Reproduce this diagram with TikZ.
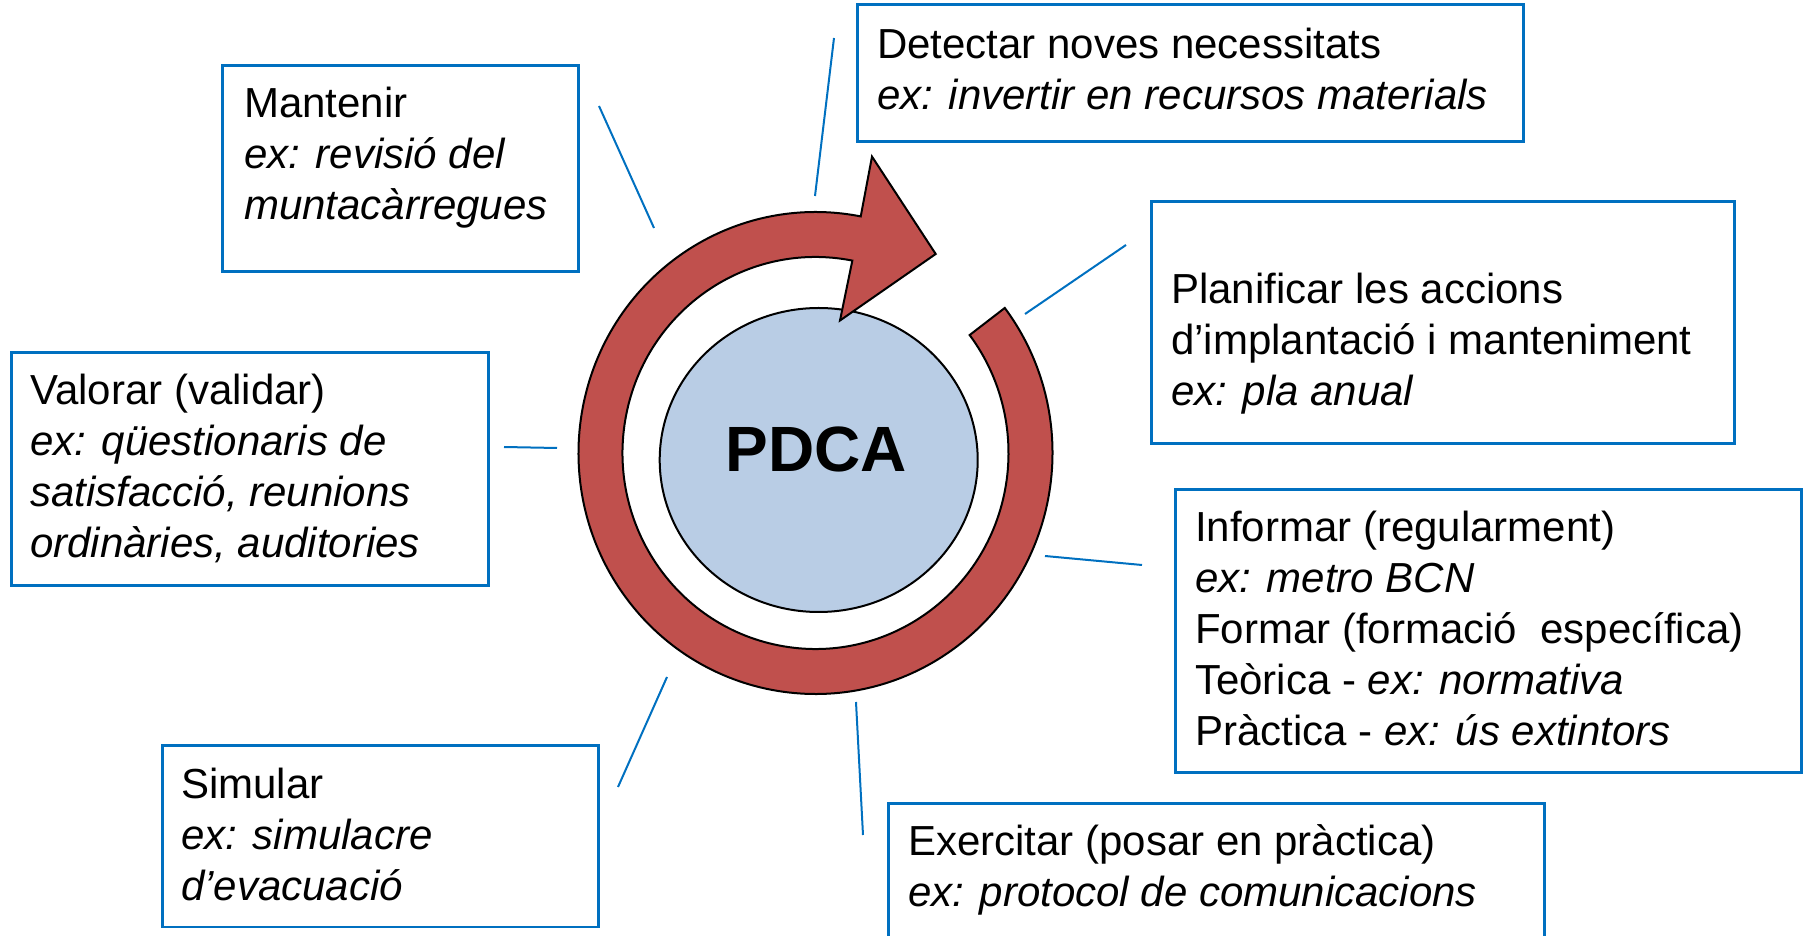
\documentclass[tikz,border=0pt]{standalone}
\usepackage{fontspec}
\setmainfont{Liberation Sans}
\usetikzlibrary{shapes.geometric,calc}
\definecolor{boxblue}{HTML}{0070C0}
\definecolor{ringred}{HTML}{C0504D}
\definecolor{pdcablue}{HTML}{B9CDE5}
\begin{document}
\begin{tikzpicture}[x=1pt,y=1pt,
  box/.style={draw=boxblue, line width=2.5pt, rectangle, inner sep=0pt, anchor=south west},
  conn/.style={draw=boxblue, line width=2pt},
  txt/.style={anchor=base west, inner sep=0pt, font=\fontsize{42}{51}\selectfont},
]
\useasboundingbox (0,0) rectangle (1805,935);
\clip (0,0) rectangle (1805,935);

% centre ellipse
\node[draw=black, line width=2pt, fill=pdcablue, ellipse, minimum width=318pt, minimum height=304pt, inner sep=0pt] (pdca) at (818.7,475) {};
\node[anchor=base, inner sep=0pt, font=\fontsize{64}{70}\selectfont\bfseries] (pdcatext) at (816.4,463) {PDCA};

% circular arrow
\coordinate (rc) at (815.5,482);
\draw[fill=ringred, draw=black, line width=2pt, line join=miter]
  ($(rc)+(37:237 and 241)$) arc[start angle=37, end angle=-281, x radius=237, y radius=241]
  -- (872,778.4) -- (935.7,681) -- (840,614.5)
  -- ($(rc)+(79:193 and 196)$) arc[start angle=-281, end angle=37, x radius=193, y radius=196] -- cycle;

% boxes
\node[box, minimum width=356pt, minimum height=206pt] (bmant) at (221,662) {};
\node[box, minimum width=666pt, minimum height=137pt] (bdet) at (856,792) {};
\node[box, minimum width=583pt, minimum height=242pt] (bplan) at (1150,490) {};
\node[box, minimum width=477pt, minimum height=233pt] (bval) at (10,348) {};
\node[box, minimum width=626pt, minimum height=283pt] (binf) at (1174,161) {};
\node[box, minimum width=436pt, minimum height=181pt] (bsim) at (161,7) {};
\node[box, minimum width=656pt, minimum height=180pt] (bexe) at (887,-50) {};

% texts
\node[txt] (tmant) at (244,817.7) {\begin{tabular}[t]{@{}l@{}}Mantenir\\ \itshape ex: revisió del\\ \itshape muntacàrregues\end{tabular}};
\node[txt] (tdet) at (877,876.7) {\begin{tabular}[t]{@{}l@{}}Detectar noves necessitats\\ \itshape ex: invertir en recursos materials\end{tabular}};
\node[txt] (tplan) at (1171,631) {\begin{tabular}[t]{@{}l@{}}Planificar les accions\\ d’implantació i manteniment\\ \itshape ex: pla anual\end{tabular}};
\node[txt] (tinf) at (1195,393.3) {\begin{tabular}[t]{@{}l@{}}Informar (regularment)\\ \itshape ex: metro BCN\\ Formar (formació\ \ específica)\\ Teòrica - \itshape ex: normativa\\ Pràctica - \itshape ex: ús extintors\end{tabular}};
\node[txt] (texe) at (908,80) {\begin{tabular}[t]{@{}l@{}}Exercitar (posar en pràctica)\\ \itshape ex: protocol de comunicacions\end{tabular}};
\node[txt] (tval) at (30,530) {\begin{tabular}[t]{@{}l@{}}Valorar (validar)\\ \itshape ex: qüestionaris de\\ \itshape satisfacció, reunions\\ \itshape ordinàries, auditories\end{tabular}};
\node[txt] (tsim) at (181,136) {\begin{tabular}[t]{@{}l@{}}Simular\\ \itshape ex: simulacre\\ \itshape d’evacuació\end{tabular}};

% connectors
\coordinate (m1) at (599,829); \coordinate (m2) at (654,707);
\coordinate (d1) at (834,897); \coordinate (d2) at (815,739);
\coordinate (p1) at (1126,690); \coordinate (p2) at (1025,621);
\coordinate (i1) at (1045,379); \coordinate (i2) at (1142,370);
\coordinate (e1) at (856,233); \coordinate (e2) at (863,100);
\coordinate (v1) at (504,488); \coordinate (v2) at (557,487);
\coordinate (s1) at (667,258); \coordinate (s2) at (618,148);
\draw[conn] (m1) -- (m2);
\draw[conn] (d1) -- (d2);
\draw[conn] (p1) -- (p2);
\draw[conn] (i1) -- (i2);
\draw[conn] (e1) -- (e2);
\draw[conn] (v1) -- (v2);
\draw[conn] (s1) -- (s2);
\end{tikzpicture}
\end{document}
